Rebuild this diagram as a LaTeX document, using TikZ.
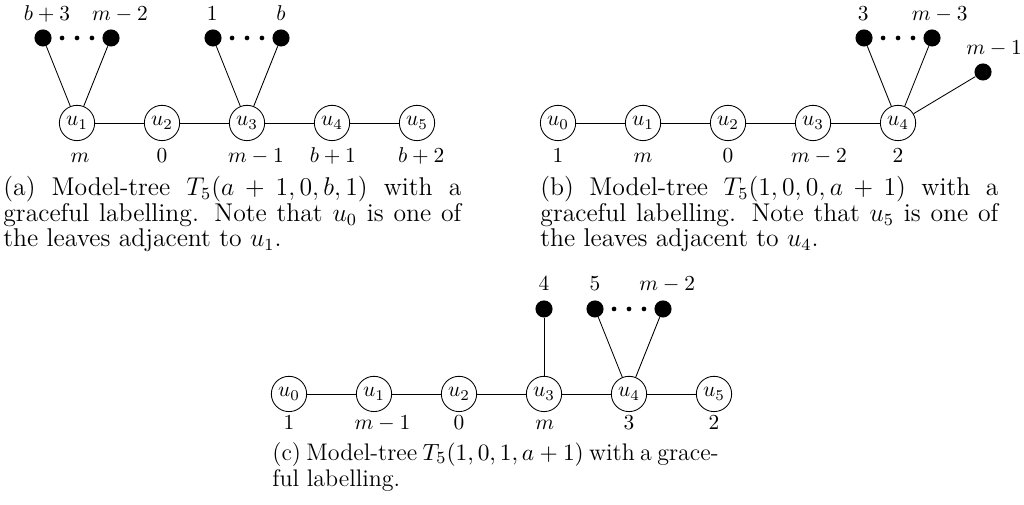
\documentclass[tikz,border=0pt]{standalone}
\usetikzlibrary{calc}
\begin{document}
\begin{tikzpicture}[x=1.396cm, y=1.396cm,
    vertice/.style={circle, draw, minimum size=16.5pt, inner sep=0pt},
    folha/.style={circle, fill, minimum size=8pt, inner sep=0pt},
    rotulo/.style={anchor=base, inner sep=0pt},
    legenda/.style={text width=214pt, align=justify, anchor=north west, inner sep=0pt,
        font=\fontsize{12pt}{12pt}\selectfont}]
    \useasboundingbox (0,0) rectangle (12.047,5.941);

    % Árvore (a)
    \begin{scope}[shift={(-0.094,4.494)}]
        \node[vertice] (a1) at (1,0) {$u_1$};
        \node[vertice] (a2) at (2,0) {$u_2$};
        \node[vertice] (a3) at (3,0) {$u_3$};
        \node[vertice] (a4) at (4,0) {$u_4$};
        \node[vertice] (a5) at (5,0) {$u_5$};
        \draw (a1) -- (a2) -- (a3) -- (a4) -- (a5);

        % Folhas
        \node[folha] (af1) at (0.6,1) {};
        \node[folha] (af2) at (1.4,1) {};
        \node[folha] (af3) at (2.6,1) {};
        \node[folha] (af4) at (3.4,1) {};
        \draw (af1) -- (a1) -- (af2);
        \draw (af3) -- (a3) -- (af4);
        \foreach \t in {0.28,0.5,0.72} {
            \fill ($(af1)!\t!(af2)$) circle (1.1pt);
            \fill ($(af3)!\t!(af4)$) circle (1.1pt);
        }

        % Rótulos
        \node[rotulo] (ra1) at (1.035,-0.47) {$m$};
        \node[rotulo] (ra2) at (2,-0.47) {$0$};
        \node[rotulo] (ra3) at (3.106,-0.47) {$m-1$};
        \node[rotulo] (ra4) at (4.01,-0.47) {$b+1$};
        \node[rotulo] (ra5) at (5.05,-0.47) {$b+2$};
        \node[rotulo] (raf1) at (0.647,1.2) {$b+3$};
        \node[rotulo] (raf2) at (1.506,1.2) {$m-2$};
        \node[rotulo] (raf3) at (2.59,1.2) {$1$};
        \node[rotulo] (raf4) at (3.4,1.2) {$b$};
    \end{scope}

    % Árvore (b)
    \begin{scope}[shift={(6.565,4.494)}]
        \node[vertice] (b0) at (0,0) {$u_0$};
        \node[vertice] (b1) at (1,0) {$u_1$};
        \node[vertice] (b2) at (2,0) {$u_2$};
        \node[vertice] (b3) at (3,0) {$u_3$};
        \node[vertice] (b4) at (4,0) {$u_4$};
        \draw (b0) -- (b1) -- (b2) -- (b3) -- (b4);

        % Folhas
        \node[folha] (bf1) at (3.6,1) {};
        \node[folha] (bf2) at (4.4,1) {};
        \node[folha] (bf3) at (5,0.6) {};
        \draw (bf1) -- (b4) -- (bf2);
        \draw (b4) -- (bf3);
        \foreach \t in {0.28,0.5,0.72}
            \fill ($(bf1)!\t!(bf2)$) circle (1.1pt);

        % Rótulos
        \node[rotulo] (rb0) at (0,-0.47) {$1$};
        \node[rotulo] (rb1) at (1,-0.47) {$m$};
        \node[rotulo] (rb2) at (2,-0.47) {$0$};
        \node[rotulo] (rb3) at (3.07,-0.47) {$m-2$};
        \node[rotulo] (rb4) at (4,-0.47) {$2$};
        \node[rotulo] (rbf1) at (3.59,1.2) {$3$};
        \node[rotulo] (rbf2) at (4.49,1.2) {$m-3$};
        \node[rotulo] (rbf3) at (5.13,0.8) {$m-1$};
    \end{scope}

    % Árvore (c)
    \begin{scope}[shift={(3.4,1.306)}]
        \node[vertice] (c0) at (0,0) {$u_0$};
        \node[vertice] (c1) at (1,0) {$u_1$};
        \node[vertice] (c2) at (2,0) {$u_2$};
        \node[vertice] (c3) at (3,0) {$u_3$};
        \node[vertice] (c4) at (4,0) {$u_4$};
        \node[vertice] (c5) at (5,0) {$u_5$};
        \draw (c0) -- (c1) -- (c2) -- (c3) -- (c4) -- (c5);

        % Folhas
        \node[folha] (cf1) at (3,1) {};
        \node[folha] (cf2) at (3.6,1) {};
        \node[folha] (cf3) at (4.4,1) {};
        \draw (cf1) -- (c3);
        \draw (cf2) -- (c4) -- (cf3);
        \foreach \t in {0.28,0.5,0.72}
            \fill ($(cf2)!\t!(cf3)$) circle (1.1pt);

        % Rótulos
        \node[rotulo] (rc0) at (0,-0.42) {$1$};
        \node[rotulo] (rc1) at (1.1,-0.42) {$m-1$};
        \node[rotulo] (rc2) at (2,-0.42) {$0$};
        \node[rotulo] (rc3) at (3.01,-0.42) {$m$};
        \node[rotulo] (rc4) at (4,-0.42) {$3$};
        \node[rotulo] (rc5) at (5,-0.42) {$2$};
        \node[rotulo] (rcf1) at (3,1.22) {$4$};
        \node[rotulo] (rcf2) at (3.6,1.22) {$5$};
        \node[rotulo] (rcf3) at (4.45,1.22) {$m-2$};
    \end{scope}

    % Legendas
    \node[legenda] (lega) at (0.035,3.871) {(a) Model-tree $T_5(a+1,0,b,1)$ with a graceful labelling. Note that $u_0$ is one of the leaves adjacent to $u_1$.};
    \node[legenda] (legb) at (6.353,3.871) {(b) Model-tree $T_5(1,0,0,a+1)$ with a graceful labelling. Note that $u_5$ is one of the leaves adjacent to $u_4$.};
    \node[legenda, text width=208.5pt, font=\fontsize{11.2pt}{12pt}\selectfont] (legc) at (3.2,0.741) {(c) Model-tree \mbox{$T_5(1,0,1,a+1)$} with a grace-\linebreak ful labelling.};
\end{tikzpicture}
\end{document}
